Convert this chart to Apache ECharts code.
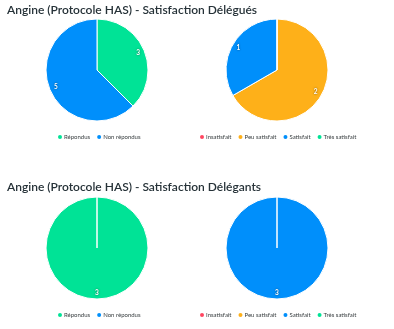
<!DOCTYPE html>
<html><head><meta charset="utf-8">
<script src="https://cdn.jsdelivr.net/npm/echarts@6/dist/echarts.min.js"></script>
<style>html,body{margin:0;padding:0;background:#fff}#c{width:394px;height:329px}</style>
</head><body><div id="c"></div>
<script>
const titles = ["Angine (Protocole HAS) - Satisfaction Délégués", "Angine (Protocole HAS) - Satisfaction Délégants"];
const repCats = ["Répondus", "Non répondus"];
const satCats = ["Insatisfait", "Peu satisfait", "Satisfait", "Très satisfait"];
const repDelegues = [3, 5];
const satDelegues = [0, 2, 1, 0];
const repDelegants = [3, 0];
const satDelegants = [0, 0, 3, 0];

const colorMap = {"Répondus":"#00E396","Non répondus":"#008FFB","Insatisfait":"#FF4560","Peu satisfait":"#FEB019","Satisfait":"#008FFB","Très satisfait":"#00E396"};
const R = 51;
function mk(cats, vals){ return cats.map((c,i)=>({name:c,value:vals[i],itemStyle:{color:colorMap[c]}})); }
function pieSeries(cats, vals, center){
  return [{
    type:'pie', center:center, radius:R, startAngle:90, clockwise:true,
    data: mk(cats, vals), label:{show:false}, labelLine:{show:false},
    itemStyle:{borderColor:'#fff', borderWidth:1}, emphasis:{disabled:true}, animation:false
  },{
    type:'pie', center:center, radius:[R*0.63, R], startAngle:90, clockwise:true, silent:true,
    legendHoverLink:false,
    data: mk(cats, vals).map(d=>({name:d.name,value:d.value,itemStyle:{color:'rgba(0,0,0,0)'},label:{show:d.value>0}})),
    label:{show:true, position:'inside', formatter:'{c}', color:'#fff', fontSize:6.5, fontWeight:'bold', fontFamily:'Lato',
      textShadowColor:'rgba(0,0,0,0.6)', textShadowBlur:2},
    labelLine:{show:false}, emphasis:{disabled:true}, animation:false
  }];
}
const legendCommon = {icon:'circle', itemWidth:6, itemHeight:6, itemGap:5, width:380, orient:'horizontal', padding:0,
  textStyle:{fontSize:6, color:'#373d3f', fontFamily:'Lato', padding:[0,0,0,-4]}, selectedMode:false};
const titleStyle = {fontSize:12, fontWeight:600, color:'#263238', fontFamily:'Lato'};

const chart = echarts.init(document.getElementById('c'));
chart.setOption({
  animation:false,
  title:[
    {text:titles[0], left:7, top:4, padding:0, textStyle:titleStyle},
    {text:titles[1], left:7, top:181, padding:0, textStyle:titleStyle}
  ],
  legend:[
    Object.assign({data:repCats, top:133}, legendCommon, {left:56}),
    Object.assign({data:satCats, top:133}, legendCommon, {left:198}),
    Object.assign({data:repCats, top:311}, legendCommon, {left:56}),
    Object.assign({data:satCats, top:311}, legendCommon, {left:198})
  ],
  series:[].concat(
    pieSeries(repCats, repDelegues, [97,70]),
    pieSeries(satCats, satDelegues, [277,70]),
    pieSeries(repCats, repDelegants, [97,248]),
    pieSeries(satCats, satDelegants, [277,248])
  )
});
</script></body></html>
